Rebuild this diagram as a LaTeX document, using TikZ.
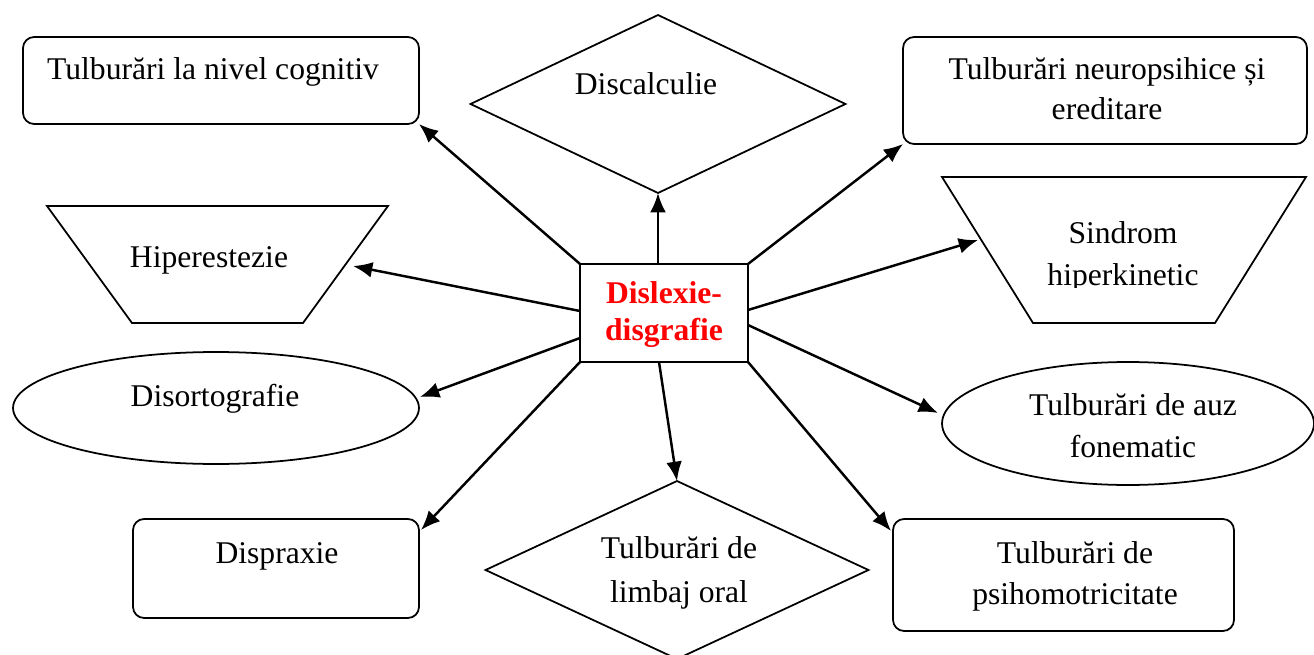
\documentclass[tikz,border=0pt]{standalone}
\usepackage{fontspec}
\setmainfont{Liberation Serif}
\usetikzlibrary{shapes.geometric,arrows.meta,calc}
\begin{document}
\begin{tikzpicture}[x=0.02cm,y=-0.02cm,
  shp/.style={draw,line width=1pt,inner sep=0pt,outer sep=0pt},
  box/.style={shp,rectangle,rounded corners=0.22cm},
  dia/.style={shp,diamond},
  ell/.style={shp,ellipse},
  trapline/.style={line width=1pt,line join=miter},
  txt/.style={anchor=base,inner sep=0pt,font=\fontsize{18}{21}\selectfont},
  ctxt/.style={txt,text=red,font=\fontsize{18}{21}\selectfont\bfseries},
  arr/.style={line width=1.4pt,-{Latex[length=11pt,width=9pt]}}]
\useasboundingbox (0,0) rectangle (1314,655);

% shapes
\node[box,minimum width=7.92cm,minimum height=1.74cm] (cog) at (221,80.5) {};
\node[dia,minimum width=7.5cm,minimum height=3.56cm] (disc) at (658,104) {};
\node[box,minimum width=8.08cm,minimum height=2.14cm] (neuro) at (1105,90.5) {};
\draw[trapline] (47,206) -- (388,206) -- (303,323) -- (132,323) -- cycle;
\node[inner sep=0pt,minimum width=6.82cm,minimum height=2.34cm] (hip) at (217.5,264.5) {};
\draw[trapline] (942,177) -- (1306,177) -- (1215,323) -- (1033,323) -- cycle;
\node[inner sep=0pt,minimum width=7.28cm,minimum height=2.92cm] (sin) at (1124,250) {};
\node[shp,rectangle,minimum width=3.36cm,minimum height=1.96cm] (c) at (664,313) {};
\node[ell,minimum width=8.12cm,minimum height=2.24cm] (dis) at (216,408) {};
\node[ell,minimum width=7.44cm,minimum height=2.46cm] (auz) at (1128,423.5) {};
\node[box,minimum width=5.72cm,minimum height=1.98cm] (dsp) at (276,568.5) {};
\node[dia,minimum width=7.66cm,minimum height=3.56cm] (lim) at (677,570) {};
\node[box,minimum width=6.82cm,minimum height=2.24cm] (psi) at (1063.5,575) {};

% texts
\node[txt] (tcog) at (213,80) {Tulburări la nivel cognitiv};
\node[txt] (tdisc) at (646,95) {Discalculie};
\node[txt] (tneuro1) at (1107,80) {Tulburări neuropsihice și};
\node[txt] (tneuro2) at (1107,120) {ereditare};
\node[txt] (thip) at (209,267) {Hiperestezie};
\node[txt] (tsin1) at (1123,243) {Sindrom};
\begin{scope}
  \clip (990,250) rectangle (1260,287);
  \node[txt] (tsin2) at (1123,285) {hiperkinetic};
\end{scope}
\node[ctxt] (tc1) at (664,303) {Dislexie-};
\node[ctxt] (tc2) at (664,340) {disgrafie};
\node[txt] (tdis) at (215,406) {Disortografie};
\node[txt] (tauz1) at (1133,415) {Tulburări de auz};
\begin{scope}
  \clip (990,420) rectangle (1280,458);
  \node[txt] (tauz2) at (1133,457) {fonematic};
\end{scope}
\node[txt] (tdsp) at (277,563) {Dispraxie};
\node[txt] (tlim1) at (679,558) {Tulburări de};
\node[txt] (tlim2) at (679,602) {limbaj oral};
\node[txt] (tpsi1) at (1075,563) {Tulburări de};
\node[txt] (tpsi2) at (1075,604) {psihomotricitate};

% arrow end points
\coordinate (hipin) at (353,266);
\coordinate (sinin) at (978,240);
\coordinate (disin) at (420,397);
\coordinate (auzin) at (938,413);
\coordinate (dspin) at (421,530);
\coordinate (psiin) at (891,531);

% connectors
\draw[arr] (c.north west) -- (cog.south east);
\draw[arr] ($(c.north)+(-6,0)$) -- (disc.south);
\draw[arr] (c.north east) -- (neuro.south west);
\draw[arr] ($(c.west)+(0,-2)$) -- (hipin);
\draw[arr] ($(c.east)+(0,-3)$) -- (sinin);
\draw[arr] ($(c.west)+(0,25)$) -- (disin);
\draw[arr] ($(c.east)+(0,12)$) -- (auzin);
\draw[arr] (c.south west) -- (dspin);
\draw[arr] ($(c.south)+(-5,0)$) -- (lim.north);
\draw[arr] (c.south east) -- (psiin);
\end{tikzpicture}
\end{document}
